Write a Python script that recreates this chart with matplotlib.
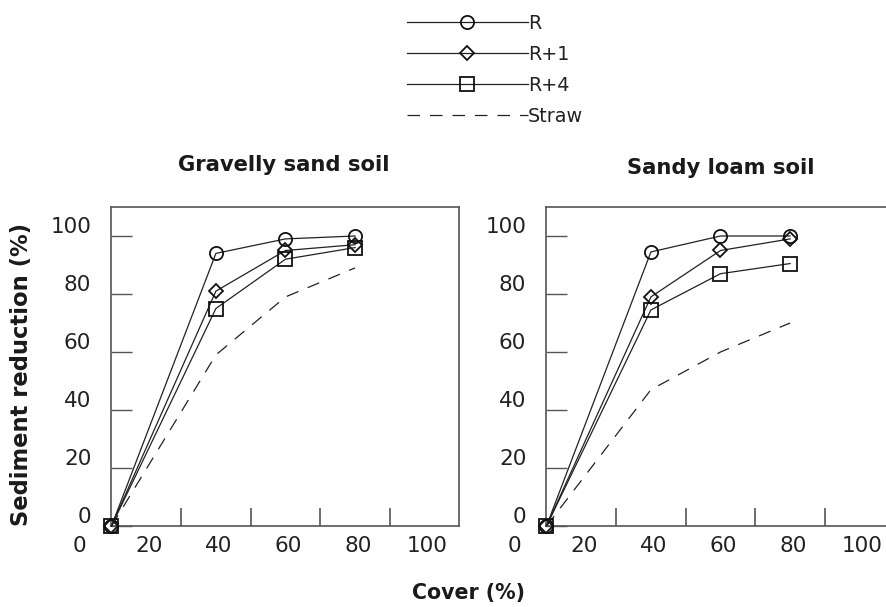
import matplotlib
matplotlib.use("Agg")
import matplotlib.pyplot as plt
from matplotlib.transforms import ScaledTranslation, blended_transform_factory

plt.rcParams['font.family'] = ['DejaVu Sans']

cover = [10, 40, 60, 80]
panels = ["Gravelly sand soil", "Sandy loam soil"]
series_names = ["R", "R+1", "R+4", "Straw"]
gravelly = {
    "R":     [0, 94, 99, 100],
    "R+1":   [0, 81, 95, 97],
    "R+4":   [0, 75, 92, 96],
    "Straw": [0, 59, 79, 89],
}
sandy = {
    "R":     [0, 94.5, 100, 100],
    "R+1":   [0, 79, 95, 99],
    "R+4":   [0, 74.5, 87, 90.5],
    "Straw": [0, 47, 60, 70],
}
data = [gravelly, sandy]
ytick_vals = [0, 20, 40, 60, 80, 100]
xlabel_vals = [0, 20, 40, 60, 80, 100]
xtick_marks = [30, 50, 70, 90]

W, H = 887, 607
fig = plt.figure(figsize=(W / 100, H / 100), dpi=100)

lc = "#222222"
spc = "#555555"
styles = {
    "R":     dict(marker="o", ms=9.5, ls="-"),
    "R+1":   dict(marker="D", ms=7.5, ls="-"),
    "R+4":   dict(marker="s", ms=9.5, ls="-"),
    "Straw": dict(marker=None, ls=(0, (10, 8))),
}

ax_lefts = [111.5, 546.5]
ax_w, ax_top, ax_bot = 348, 207, 526
title_pos = [(284, 171), (721, 174)]

handles = []
for i, d in enumerate(data):
    ax = fig.add_axes([ax_lefts[i] / W, (H - ax_bot) / H, ax_w / W, (ax_bot - ax_top) / H])
    for name in series_names:
        st = styles[name]
        if st["marker"]:
            ln, = ax.plot(cover, d[name], color=lc, lw=0.9, ls=st["ls"], marker=st["marker"],
                          ms=st["ms"], mfc="none", mec="#111111", mew=1.3, clip_on=False, zorder=3)
        else:
            ln, = ax.plot(cover, d[name], color=lc, lw=0.9, ls=st["ls"], clip_on=False, zorder=2)
        if i == 0:
            handles.append(ln)
    ax.set_xlim(10, 110)
    ax.set_ylim(0, 110)
    for s in ax.spines.values():
        s.set_color(spc)
        s.set_linewidth(1.2)
    ax.set_yticks(ytick_vals)
    ax.set_yticklabels([str(v) for v in ytick_vals])
    ax.tick_params(axis="y", direction="in", length=15, width=1.0, color=spc,
                   pad=14.5, labelsize=15.5, labelcolor="#222222")
    for lab in ax.get_yticklabels():
        lab.set_transform(lab.get_transform() + ScaledTranslation(0, 11 / 100, fig.dpi_scale_trans))
    ax.set_xticks(xtick_marks)
    ax.set_xticklabels([])
    ax.tick_params(axis="x", direction="in", length=13, width=1.2, color=spc)
    tr = blended_transform_factory(ax.transData, ax.transAxes) + ScaledTranslation(0, -19.5 / 100, fig.dpi_scale_trans)
    for v in xlabel_vals:
        ax.text(v + 0.8, 0, str(v), transform=tr, ha="center", va="center",
                fontsize=15.5, color="#222222", clip_on=False)
    tx, ty = title_pos[i]
    fig.text(tx / W, 1 - ty / H, panels[i], ha="center", va="baseline",
             fontsize=15.2, fontweight="bold", color="#1a1a1a")

fig.text(22 / W, 1 - 374 / H, "Sediment reduction (%)", rotation=90, ha="center", va="center",
         fontsize=16.3, fontweight="bold", color="#1a1a1a")
fig.text(469 / W, 1 - 593 / H, "Cover (%)", ha="center", va="center",
         fontsize=14.8, fontweight="bold", color="#1a1a1a")

leg = fig.legend(handles, series_names, loc="upper left",
                 bbox_to_anchor=(407 / W, 1 - 14 / H), frameon=False,
                 fontsize=13.8, handlelength=6.3, handletextpad=0.0,
                 labelspacing=0.62, borderpad=0, borderaxespad=0)
for t in leg.get_texts():
    t.set_color("#222222")

fig.savefig("out.png", dpi=100)
